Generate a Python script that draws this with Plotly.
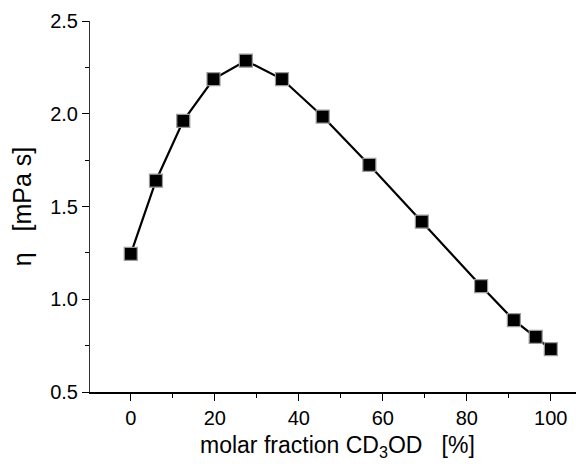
import plotly.graph_objects as go

molar_fraction = [0, 6.0, 12.5, 19.7, 27.4, 36.0, 45.7, 56.8, 69.3, 83.4, 91.2, 96.4, 100]
viscosity = [1.245, 1.639, 1.962, 2.187, 2.286, 2.187, 1.985, 1.724, 1.418, 1.071, 0.887, 0.797, 0.731]
x_ticks = [0, 20, 40, 60, 80, 100]
y_ticks = [0.5, 1.0, 1.5, 2.0, 2.5]
x_title = "molar fraction CD<sub>3</sub>OD\u00a0\u00a0\u00a0[%]"
y_title = "\u03b7\u00a0\u00a0\u00a0[mPa s]"

fig = go.Figure()
fig.add_trace(go.Scatter(
    x=molar_fraction, y=viscosity, mode="lines+markers",
    line=dict(color="black", width=2.2),
    marker=dict(symbol="square", size=13, color="black",
                line=dict(color="#9a9a9a", width=1.2)),
    showlegend=False,
))

font = "Liberation Sans, Arial, sans-serif"
# page body has an 8px margin; compensate so the plot lands where the reference has it
fig.update_layout(
    width=576, height=456,
    margin=dict(l=82, r=0, t=13, b=72),
    plot_bgcolor="white", paper_bgcolor="white",
    font=dict(family=font, size=20, color="black"),
)
fig.update_xaxes(
    range=[-9.7, 107.9], tickvals=x_ticks, ticks="outside", ticklen=7, tickwidth=1,
    tickcolor="black", showline=True, linecolor="black", linewidth=1.5,
    showgrid=False, zeroline=False, tickfont=dict(size=20), automargin=False,
    minor=dict(dtick=10, tick0=0, ticks="outside", ticklen=4, tickcolor="black"),
)
fig.update_yaxes(
    range=[0.5, 2.5], tickvals=y_ticks, tickformat=".1f", ticks="outside", ticklen=7,
    tickwidth=1, tickcolor="black", showline=True, linecolor="#333333", linewidth=1,
    showgrid=False, zeroline=False, tickfont=dict(size=20), automargin=False,
    minor=dict(dtick=0.25, tick0=0.5, ticks="outside", ticklen=4, tickcolor="black"),
    title=dict(text=y_title, font=dict(size=25), standoff=15),
)
fig.add_annotation(
    text=x_title, xref="paper", yref="paper", x=0.5, y=0,
    xanchor="center", yanchor="middle", yshift=-54, showarrow=False,
    font=dict(size=23),
)

fig.write_html("out.html")
